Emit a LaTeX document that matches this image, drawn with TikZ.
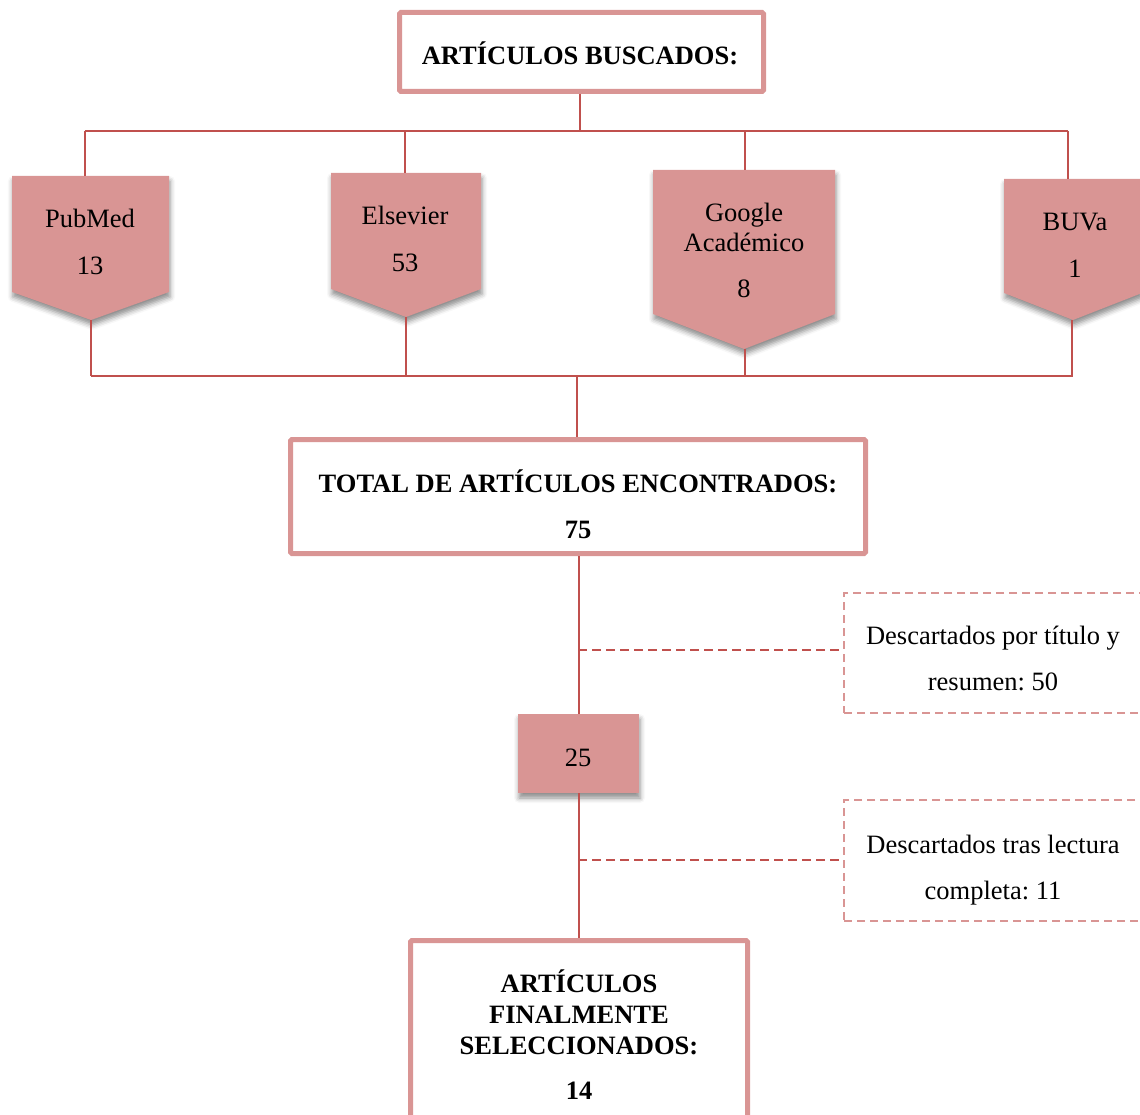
\documentclass[tikz,border=0pt]{standalone}
\usepackage{fontspec}
\setmainfont{Liberation Serif}
\usetikzlibrary{shadows.blur}
\definecolor{pinkfill}{HTML}{D99594}
\definecolor{redline}{HTML}{C0504D}
\frenchspacing
\begin{document}
\begin{tikzpicture}[x=1pt,y=-1pt,
  conn/.style={draw=redline, line width=2pt},
  dconn/.style={draw=redline, line width=2pt, dash pattern=on 9pt off 5pt},
  mainbox/.style={draw=pinkfill, line width=5pt, rounded corners=1.5pt, fill=white, inner sep=0pt},
  dbox/.style={draw=pinkfill, line width=1.5pt, dash pattern=on 8pt off 5pt, inner sep=0pt},
  shad/.style={blur shadow={shadow xshift=1pt, shadow yshift=-5pt, shadow blur radius=5pt, shadow opacity=45}},
  chev/.style={fill=pinkfill, shad},
  txt/.style={font=\fontsize{26.5}{30}\selectfont, anchor=base, inner sep=0pt},
  btxt/.style={font=\fontsize{26.5}{30}\selectfont\bfseries, anchor=base, inner sep=0pt}]
\useasboundingbox (0,0) rectangle (1140,1115);
\clip (0,0) rectangle (1140,1115);

% ---- top box
\node[mainbox, minimum width=364pt, minimum height=79pt] (buscados) at (581.5,52) {};
\node[btxt] (tbuscados) at (580,65) {ARTÍCULOS BUSCADOS:};

% ---- chevrons
\path[chev] (12,176) -- (169,176) -- (169,292) -- (91,320) -- (12,292) -- cycle;
\path[chev] (331,173) -- (481,173) -- (481,289) -- (406,317) -- (331,289) -- cycle;
\path[chev] (653,170) -- (835,170) -- (835,314) -- (744,349) -- (653,314) -- cycle;
\path[chev] (1004,179) -- (1142,179) -- (1142,293) -- (1073,320) -- (1004,293) -- cycle;

\coordinate (pmtop) at (85,176);   \coordinate (pmtip) at (91,320);
\coordinate (eltop) at (405,173);  \coordinate (eltip) at (406,317);
\coordinate (gatop) at (745,170);  \coordinate (gatip) at (745,349);
\coordinate (butop) at (1068,179); \coordinate (butip) at (1072,320);

\node[txt] (tpm1) at (90,228) {PubMed};
\node[txt] (tpm2) at (90,275) {13};
\node[txt] (tel1) at (405,225) {Elsevier};
\node[txt] (tel2) at (405,272) {53};
\node[txt] (tga1) at (744,222) {Google};
\node[txt] (tga2) at (744,252) {Académico};
\node[txt] (tga3) at (744,298) {8};
\node[txt] (tbu1) at (1075,231) {BUVa};
\node[txt] (tbu2) at (1075,278) {1};

% ---- top connectors
\coordinate (topmid) at (580,131);
\coordinate (topL) at (85,131);
\coordinate (topR) at (1068,131);
\draw[conn] (topmid |- buscados.south) -- (topmid);
\draw[conn] (topL) -- (topR);
\draw[conn] (topL) -- (pmtop);
\draw[conn] (405,131) -- (eltop);
\draw[conn] (745,131) -- (gatop);
\draw[conn] (topR) -- (butop);

% ---- bottom connectors
\coordinate (botL) at (91,376);
\coordinate (botR) at (1073,376);
\coordinate (botmid) at (577,376);
\draw[conn] (pmtip) -- (91,376);
\draw[conn] (eltip) -- (406,376);
\draw[conn] (gatip) -- (745,376);
\draw[conn] (butip) -- (1072,376);
\draw[conn] (botL) -- (botR);

% ---- total box
\node[mainbox, minimum width=575pt, minimum height=114pt] (total) at (578,496.5) {};
\node[btxt] (ttot1) at (578,492) {TOTAL DE ARTÍCULOS ENCONTRADOS:};
\node[btxt] (ttot2) at (578,538) {75};
\draw[conn] (botmid) -- (total.north -| botmid);

% ---- 25 box
\node[fill=pinkfill, shad, minimum width=121pt, minimum height=79pt, inner sep=0pt] (mid) at (578.5,753.5) {};
\node[txt] (tmid) at (578,766) {25};
\draw[conn] (total.south -| mid.north) -- (mid.north);

% ---- final box
\node[mainbox, minimum width=337pt, minimum height=184.5pt] (final) at (579,1032.75) {};
\node[btxt] (tf1) at (579,992) {ARTÍCULOS};
\node[btxt] (tf2) at (579,1023) {FINALMENTE};
\node[btxt] (tf3) at (579,1054) {SELECCIONADOS:};
\node[btxt] (tf4) at (579,1099) {14};
\draw[conn] (mid.south) -- (final.north -| mid.south);

% ---- discarded boxes
\node[dbox, minimum width=306pt, minimum height=120pt] (desc1) at (997,653) {};
\node[txt] (td1a) at (993,644) {Descartados por título y};
\node[txt] (td1b) at (993,690) {resumen: 50};
\node[dbox, minimum width=306pt, minimum height=121pt] (desc2) at (997,860.5) {};
\node[txt] (td2a) at (993,853) {Descartados tras lectura};
\node[txt] (td2b) at (993,899) {completa: 11};

\coordinate (d1start) at (578,650);
\coordinate (d2start) at (578,860);
\draw[dconn] (d1start) -- (desc1.west |- d1start);
\draw[dconn] (d2start) -- (desc2.west |- d2start);
\end{tikzpicture}
\end{document}
